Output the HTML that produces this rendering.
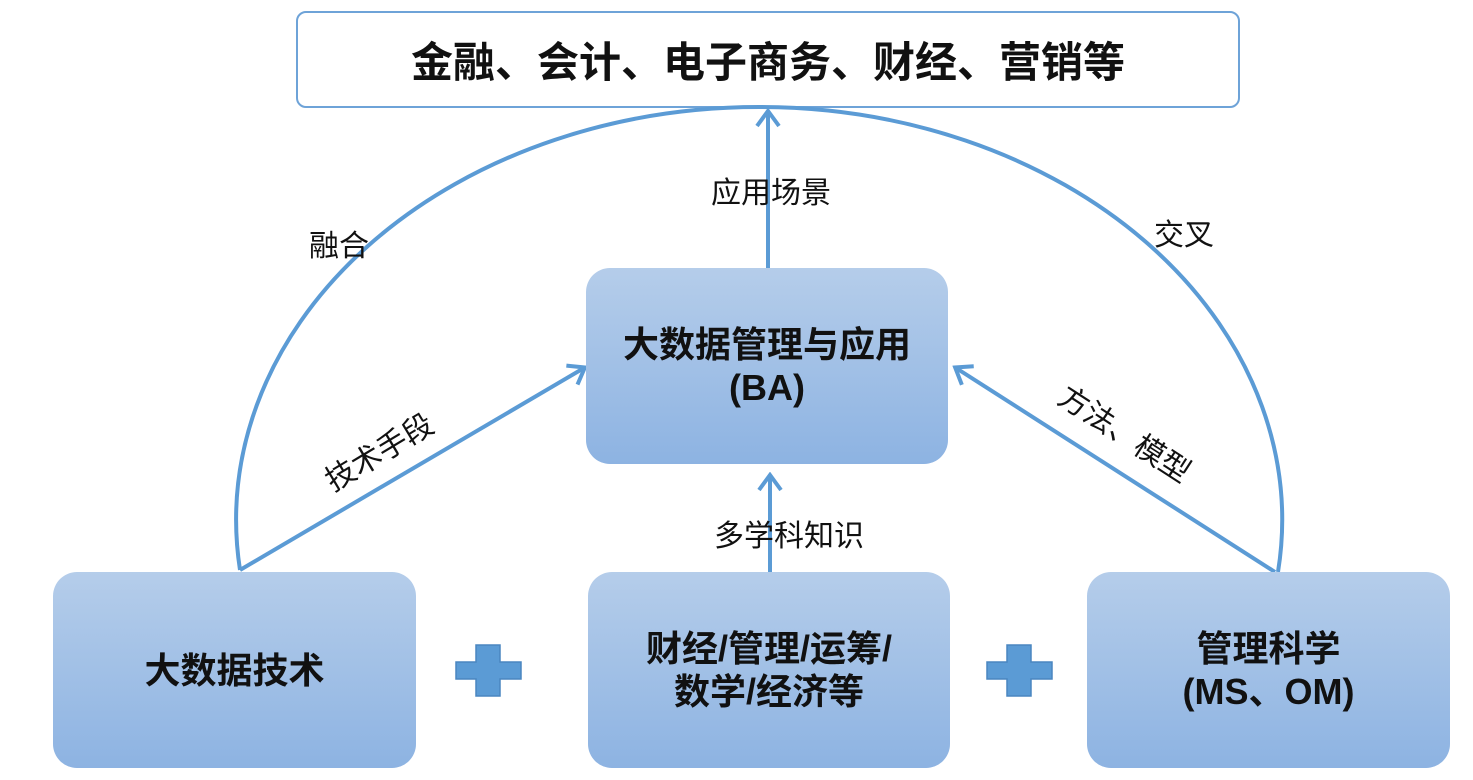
<!DOCTYPE html>
<html><head><meta charset="utf-8"><style>
html,body{margin:0;padding:0;background:#fff;}
body{width:1473px;height:780px;position:relative;overflow:hidden;font-family:"Liberation Sans","Noto Sans CJK SC",sans-serif;}
.box{position:absolute;border-radius:24px;background:linear-gradient(#b5cdea,#8db3e2);display:flex;align-items:center;justify-content:center;text-align:center;font-weight:bold;color:#111;font-size:36px;line-height:43px;}
.lbl{position:absolute;font-size:30px;color:#111;white-space:nowrap;transform:translate(-50%,-50%);}
</style></head><body>
<div style="position:absolute;left:296px;top:11px;width:940px;height:93px;border:2px solid #6ea3d8;border-radius:10px;background:#fff;display:flex;align-items:center;justify-content:center;font-weight:bold;font-size:42px;color:#111;">金融、会计、电子商务、财经、营销等</div>
<svg width="1473" height="780" style="position:absolute;left:0;top:0">
<defs><marker id="b" markerWidth="30" markerHeight="30" refX="26" refY="15" orient="auto" markerUnits="userSpaceOnUse"><path d="M12,4 L27,15 L12,26" fill="none" stroke="#5b9bd5" stroke-width="4"/></marker></defs>
<path d="M240,570 A523,413 0 1 1 1278,572" fill="none" stroke="#5b9bd5" stroke-width="4"/>
<line x1="768" y1="268" x2="768" y2="112" stroke="#5b9bd5" stroke-width="4" marker-end="url(#b)"/>
<line x1="240" y1="570" x2="584" y2="368" stroke="#5b9bd5" stroke-width="4" marker-end="url(#b)"/>
<line x1="1275" y1="572" x2="956" y2="368" stroke="#5b9bd5" stroke-width="4" marker-end="url(#b)"/>
<line x1="770" y1="572" x2="770" y2="476" stroke="#5b9bd5" stroke-width="4" marker-end="url(#b)"/>
<path d="M476,645 h24 v17 h21 v17 h-21 v17 h-24 v-17 h-20 v-17 h20z" fill="#5b9bd5" stroke="#4a86c0" stroke-width="1.5"/>
<path d="M1007,645 h24 v17 h21 v17 h-21 v17 h-24 v-17 h-20 v-17 h20z" fill="#5b9bd5" stroke="#4a86c0" stroke-width="1.5"/>
</svg>
<div class="box" style="left:586px;top:268px;width:362px;height:196px;">大数据管理与应用<br>(BA)</div>
<div class="box" style="left:53px;top:572px;width:363px;height:196px;">大数据技术</div>
<div class="box" style="left:588px;top:572px;width:362px;height:196px;">财经/管理/运筹/<br>数学/经济等</div>
<div class="box" style="left:1087px;top:572px;width:363px;height:196px;">管理科学<br>(MS、OM)</div>
<div class="lbl" style="left:771px;top:190px;">应用场景</div>
<div class="lbl" style="left:339px;top:243px;">融合</div>
<div class="lbl" style="left:1184px;top:232px;">交叉</div>
<div class="lbl" style="left:789px;top:533px;">多学科知识</div>
<div class="lbl" style="left:378px;top:450px;transform:translate(-50%,-50%) rotate(-31deg);">技术手段</div>
<div class="lbl" style="left:1126px;top:432px;transform:translate(-50%,-50%) rotate(33deg);">方法、模型</div>
</body></html>
